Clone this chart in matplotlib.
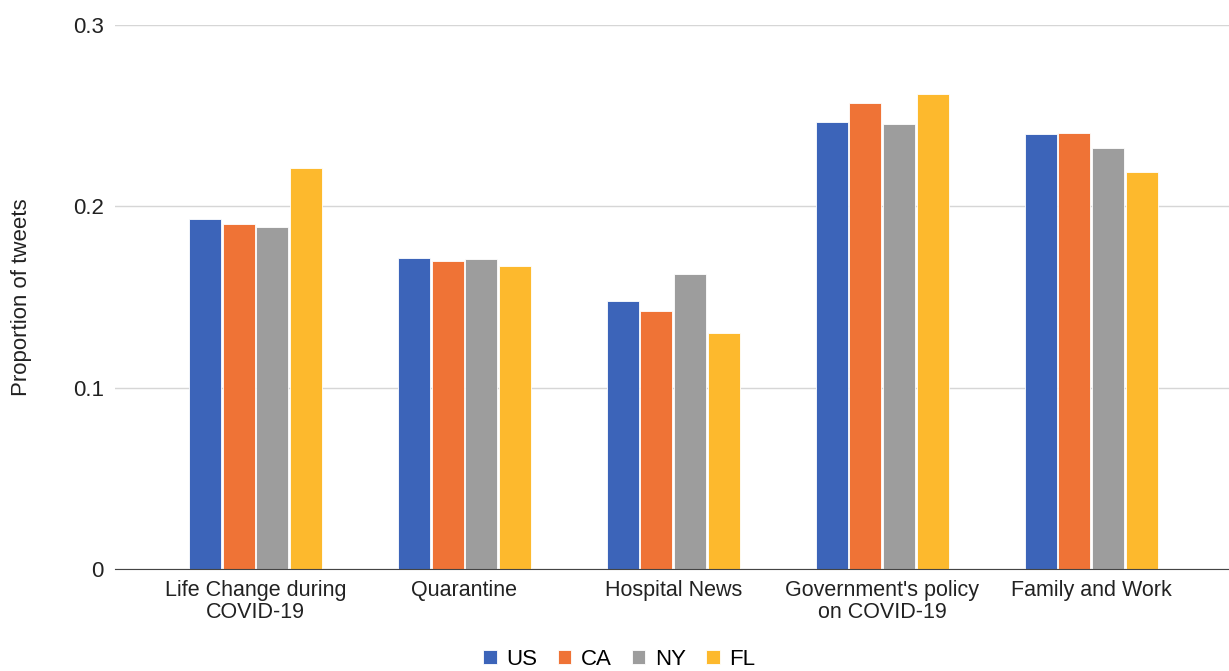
import numpy as np, matplotlib
matplotlib.use('Agg'); import matplotlib.pyplot as plt

categories = ['Life Change during\nCOVID-19', 'Quarantine', 'Hospital News',
              "Government's policy\non COVID-19", 'Family and Work']
series = ['US', 'CA', 'NY', 'FL']
us = [0.193, 0.1715, 0.148, 0.2465, 0.240]
ca = [0.190, 0.170, 0.142, 0.257, 0.2405]
ny = [0.1885, 0.171, 0.1625, 0.2455, 0.232]
fl = [0.221, 0.167, 0.130, 0.262, 0.219]
colors = ['#3c64b9', '#ef7336', '#9d9d9d', '#fdb92d']

plt.rcParams['font.family'] = ['Liberation Sans', 'DejaVu Sans']
fig = plt.figure(figsize=(12.29, 6.71), dpi=100)
ax = fig.add_axes([0.0936, 0.152, 0.9064, 0.8108])

x = np.arange(len(categories))
w, pitch = 0.153, 0.161
for i, (vals, c, lab) in enumerate(zip([us, ca, ny, fl], colors, series)):
    ax.bar(x + (i - 1.5) * pitch, vals, w, color=c, label=lab, edgecolor='white', linewidth=0.6, zorder=3)

ax.set_xlim(-0.672, 4.66)
ax.set_ylim(0, 0.3)
ax.set_yticks([0, 0.1, 0.2, 0.3])
ax.set_yticklabels(['0', '0.1', '0.2', '0.3'])
ax.set_xticks(x)
ax.set_xticklabels(categories, linespacing=1.05)
ax.tick_params(length=0, labelsize=15.5, colors='#222222')
ax.tick_params(axis='y', labelsize=16, pad=8)
ax.tick_params(axis='x', pad=8)
ax.grid(axis='y', color='#d6d6d6', lw=1, zorder=0)
for s in ['top', 'right', 'left']:
    ax.spines[s].set_visible(False)
ax.spines['bottom'].set_color('#444444')
ax.spines['bottom'].set_zorder(4)
ax.set_ylabel('Proportion of tweets', fontsize=16, color='#222222')
ax.yaxis.set_label_coords(-0.0745, 0.5)

fig.legend(loc='center', bbox_to_anchor=(0.504, 0.017), ncol=4, frameon=False, fontsize=16,
           handlelength=0.6, handleheight=0.6, handletextpad=0.45, columnspacing=0.9, borderpad=0)
plt.savefig('out.png', dpi=100)
